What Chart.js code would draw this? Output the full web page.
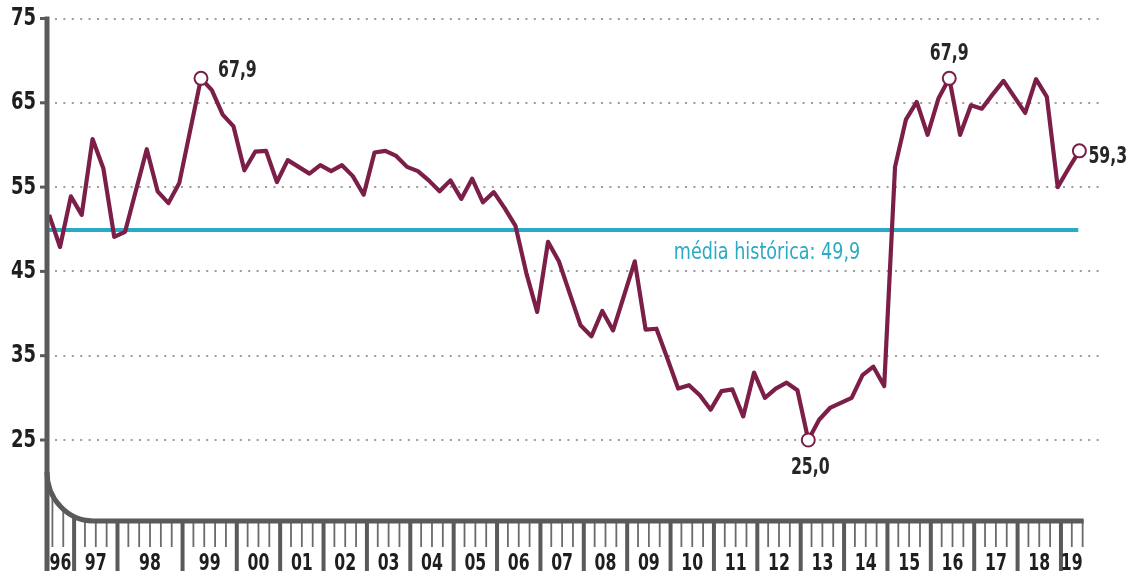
<!DOCTYPE html>
<html>
<head>
<meta charset="utf-8">
<script src="https://cdn.jsdelivr.net/npm/chart.js@4"></script>
<style>
  body { margin: 0; background: #fff; }
  #wrap { width: 1143px; height: 574px; }
</style>
</head>
<body>
<div id="wrap"><canvas id="container" width="1143" height="574"></canvas></div>
<script>
// valores do indice, um por pesquisa (96 ... 19)
const values = [
  51.7, 47.9, 53.9, 51.7, 60.7, 57.2, 49.1, 49.7, 54.6, 59.5,
  54.5, 53.1, 55.5, 61.7, 67.9, 66.5, 63.6, 62.2, 57.0, 59.2,
  59.3, 55.6, 58.2, 57.4, 56.6, 57.6, 56.9, 57.6, 56.3, 54.1,
  59.1, 59.3, 58.7, 57.4, 56.9, 55.8, 54.5, 55.8, 53.6, 56.0,
  53.2, 54.4, 52.5, 50.4, 44.8, 40.2, 48.5, 46.2, 42.4, 38.6,
  37.3, 40.3, 38.0, 42.1, 46.2, 38.1, 38.2, 34.7, 31.1, 31.5,
  30.3, 28.6, 30.8, 31.0, 27.8, 33.0, 30.0, 31.1, 31.8, 30.9,
  25.0, 27.4, 28.8, 29.4, 30.0, 32.7, 33.7, 31.4, 57.4, 63.0,
  65.1, 61.2, 65.5, 67.9, 61.2, 64.7, 64.3, 66.0, 67.6, 65.7,
  63.8, 67.8, 65.7, 55.0, 57.2, 59.3
];
const yearLabels = ['96','97','98','99','00','01','02','03','04','05','06','07',
                    '08','09','10','11','12','13','14','15','16','17','18','19'];
const yearStart = [0, 2, 6, 12, 17, 21, 25, 29, 33, 37, 41, 45, 49, 53, 57, 61,
                   65, 69, 73, 77, 81, 85, 89, 93];
const yTicks = [25, 35, 45, 55, 65, 75];
const media = 49.9;
const mediaLabel = 'média histórica: 49,9';
const highlights = [14, 70, 83, 95];

const maroon = '#7b1f48';
const cyan = '#2aaac4';
const axisGray = '#5a5a5a';
const font = "'DejaVu Sans Condensed', 'DejaVu Sans', sans-serif";

const tickOff = 0.3;
const lastTick = values.length - 1 + tickOff;

// texto estreitado (fonte condensada do original)
function txt(ctx, s, x, y, sx) {
  ctx.save();
  ctx.translate(x, y);
  ctx.scale(sx, 1);
  ctx.fillText(s, 0, 0);
  ctx.restore();
}

const deco = {
  id: 'deco',
  beforeDatasetsDraw(chart) {
    const ctx = chart.ctx, ys = chart.scales.y, a = chart.chartArea;
    ctx.save();
    ctx.strokeStyle = '#9d9d9d';
    ctx.lineWidth = 2;
    ctx.setLineDash([2, 6.4]);
    yTicks.forEach(v => {
      const y = Math.round(ys.getPixelForValue(v));
      ctx.beginPath();
      ctx.moveTo(a.left + 8, y);
      ctx.lineTo(a.right, y);
      ctx.stroke();
    });
    ctx.restore();
  },
  afterDatasetsDraw(chart) {
    const ctx = chart.ctx, xs = chart.scales.x, ys = chart.scales.y;
    ctx.save();
    ctx.fillStyle = '#262626';
    ctx.font = 'bold 23px ' + font;
    const sx = 0.76;
    const lbl = v => v.toFixed(1).replace('.', ',');
    const p = i => [xs.getPixelForValue(i), ys.getPixelForValue(values[i])];
    let [x, y] = p(highlights[0]);
    ctx.textAlign = 'left'; ctx.textBaseline = 'middle';
    txt(ctx, lbl(values[highlights[0]]), x + 17, y - 7, sx);
    [x, y] = p(highlights[1]);
    ctx.textAlign = 'center';
    txt(ctx, lbl(values[highlights[1]]), x + 2, y + 28, sx);
    [x, y] = p(highlights[2]);
    txt(ctx, lbl(values[highlights[2]]), x, y - 24, sx);
    [x, y] = p(highlights[3]);
    ctx.textAlign = 'left';
    txt(ctx, lbl(values[highlights[3]]), x + 9, y + 6, sx);

    ctx.fillStyle = cyan;
    ctx.font = '23px ' + font;
    ctx.textBaseline = 'alphabetic';
    txt(ctx, mediaLabel, xs.getPixelForValue(57.6), ys.getPixelForValue(media) + 29, 0.85);
    ctx.restore();
  },
  afterDraw(chart) {
    const ctx = chart.ctx, xs = chart.scales.x, ys = chart.scales.y, a = chart.chartArea;
    const left = a.left;
    const axisY = ys.getPixelForValue(15.4);
    const rx = 46, ry = 49;
    const cx = left + rx, cy = axisY - ry;
    const curveY = x => x >= cx ? axisY : cy + ry * Math.sqrt(Math.max(0, 1 - ((cx - x) / rx) ** 2));
    ctx.save();

    // ticks
    const majors = new Set(yearStart.slice(1));
    for (let i = 0; i < values.length; i++) {
      const x = xs.getPixelForValue(i + tickOff);
      const major = majors.has(i);
      ctx.strokeStyle = major ? axisGray : '#6a6a6a';
      ctx.lineWidth = major ? 4 : 1.8;
      ctx.beginPath();
      ctx.moveTo(x, curveY(x) - 1);
      ctx.lineTo(x, major ? 571 : 547);
      ctx.stroke();
    }

    // eixo vertical + curva + eixo horizontal
    ctx.strokeStyle = axisGray;
    ctx.lineWidth = 5;
    ctx.beginPath();
    ctx.moveTo(left, ys.getPixelForValue(75) - 2);
    ctx.lineTo(left, 571);
    ctx.stroke();
    ctx.beginPath();
    ctx.moveTo(left, cy);
    ctx.ellipse(cx, cy, rx, ry, 0, Math.PI, Math.PI / 2, true);
    ctx.lineTo(xs.getPixelForValue(lastTick) + 1, axisY);
    ctx.stroke();

    // marcas do eixo y
    ctx.lineWidth = 3;
    yTicks.forEach(v => {
      const y = ys.getPixelForValue(v);
      ctx.beginPath();
      ctx.moveTo(left - 7, y);
      ctx.lineTo(left, y);
      ctx.stroke();
    });

    // rotulos
    ctx.fillStyle = '#1e1e1e';
    ctx.font = 'bold 25px ' + font;
    ctx.textAlign = 'right';
    ctx.textBaseline = 'middle';
    yTicks.forEach(v => txt(ctx, String(v), 36, ys.getPixelForValue(v), 0.8));

    ctx.font = 'bold 23px ' + font;
    ctx.textAlign = 'center';
    ctx.textBaseline = 'alphabetic';
    yearLabels.forEach((t, k) => {
      const x0 = k === 0 ? left : xs.getPixelForValue(yearStart[k] + tickOff);
      const x1 = k < yearLabels.length - 1 ? xs.getPixelForValue(yearStart[k + 1] + tickOff)
                                           : xs.getPixelForValue(lastTick);
      txt(ctx, t, (x0 + x1) / 2, 570, 0.76);
    });
    ctx.restore();
  }
};

new Chart('container', {
  type: 'line',
  data: {
    datasets: [
      {
        data: values.map((v, i) => ({ x: i, y: v })),
        borderColor: maroon,
        borderWidth: 4.2,
        borderJoinStyle: 'round',
        tension: 0,
        pointRadius: c => highlights.includes(c.dataIndex) ? 6.5 : 0,
        pointBackgroundColor: '#fff',
        pointBorderColor: maroon,
        pointBorderWidth: 2,
        order: 1
      },
      {
        data: [{ x: -0.2, y: media }, { x: 94.9, y: media }],
        borderColor: cyan,
        borderWidth: 4,
        pointRadius: 0,
        order: 2
      }
    ]
  },
  options: {
    responsive: false,
    animation: false,
    layout: { padding: { left: 47, right: 43, top: 18.5, bottom: 49.7 } },
    scales: {
      x: { type: 'linear', min: -0.2, max: 96.9, display: false },
      y: { min: 15, max: 75, display: false }
    },
    plugins: { legend: { display: false }, tooltip: { enabled: false } }
  },
  plugins: [deco]
});
</script>
</body>
</html>
